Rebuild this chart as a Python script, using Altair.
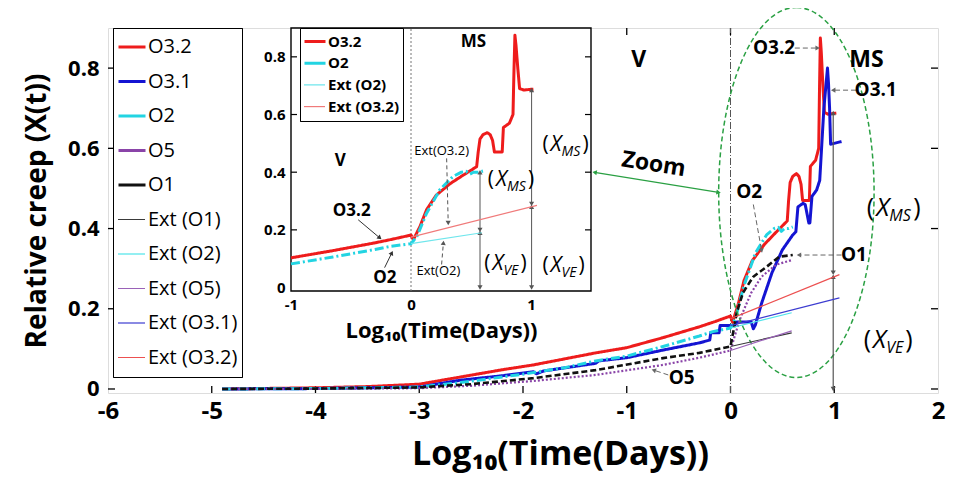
import math
import altair as alt
import pandas as pd

# ---------------- series (x = log10 days, y = relative creep) ----------------
SERIES = ["O3.2", "O3.1", "O2", "O5", "O1",
          "Ext (O1)", "Ext (O2)", "Ext (O5)", "Ext (O3.1)", "Ext (O3.2)"]
COLORS = ["#ee1c1c", "#1414d2", "#22d4e2", "#8a44a8", "#111111",
          "#3a3a3a", "#4ee4ea", "#9a62b8", "#3c3cd0", "#ec5050"]
DASHES = [[1, 0], [1, 0], [9, 3, 2, 3], [2, 2], [6, 3],
          [1, 0], [1, 0], [1, 0], [1, 0], [1, 0]]
LINE_W = {"O3.2": 3, "O3.1": 3, "O2": 3, "O5": 2.2, "O1": 2.6}
THICK, THIN = 3, 1.2

O32_X = [-4.9, -4.0, -3.5, -3.0, -2.6, -2.2, -1.9, -1.6, -1.3, -1.0, -0.65, -0.3, -0.15,
         0.0, 0.02, 0.075, 0.13, 0.21, 0.325, 0.436, 0.547, 0.56, 0.575, 0.6, 0.635, 0.66,
         0.68, 0.695, 0.76, 0.77, 0.82, 0.85, 0.858, 0.866, 0.875, 0.89, 0.905, 0.94, 1.02]
O32_Y = [0.0, 0.003, 0.006, 0.012, 0.03, 0.048, 0.06, 0.075, 0.09, 0.103, 0.128, 0.155, 0.168,
         0.182, 0.166, 0.212, 0.27, 0.32, 0.36, 0.39, 0.419, 0.47, 0.515, 0.53, 0.537, 0.53,
         0.51, 0.47, 0.47, 0.555, 0.57, 0.6, 0.75, 0.875, 0.84, 0.76, 0.69, 0.685, 0.688]

O31_X = [-4.9, -4.0, -3.0, -2.6, -2.2, -1.9, -1.87, -1.8, -1.3, -1.27, -1.0, -0.65, -0.3,
         -0.2, -0.19, -0.11, -0.1, 0.04, 0.06, 0.2, 0.22, 0.24, 0.3, 0.4, 0.5, 0.6, 0.63,
         0.65, 0.7, 0.72, 0.755, 0.765, 0.785, 0.83, 0.86, 0.9, 0.935, 0.945, 0.955, 0.965, 1.07]
O31_Y = [0.0, 0.001, 0.005, 0.022, 0.033, 0.043, 0.038, 0.045, 0.064, 0.07, 0.078, 0.097, 0.115,
         0.122, 0.14, 0.14, 0.158, 0.158, 0.167, 0.167, 0.15, 0.16, 0.214, 0.29, 0.347, 0.384, 0.392,
         0.454, 0.463, 0.46, 0.414, 0.414, 0.48, 0.496, 0.52, 0.70, 0.80, 0.76, 0.70, 0.61, 0.617]

O2_X = [-4.9, -4.0, -3.0, -2.6, -2.0, -1.6, -1.3, -1.0, -0.65, -0.3, -0.17, 0.0, 0.05, 0.13,
        0.24, 0.35, 0.42, 0.46, 0.49, 0.52, 0.56, 0.6]
O2_Y = [0.0, 0.001, 0.005, 0.016, 0.037, 0.053, 0.07, 0.082, 0.106, 0.132, 0.143, 0.152, 0.178,
        0.258, 0.339, 0.385, 0.40, 0.403, 0.393, 0.40, 0.40, 0.404]

O5_X = [-4.9, -4.0, -3.0, -2.5, -1.9, -1.3, -0.65, -0.3, 0.0, 0.05, 0.1, 0.2, 0.3, 0.44, 0.6]
O5_Y = [0.0, 0.0, 0.002, 0.008, 0.02, 0.035, 0.06, 0.078, 0.096, 0.14, 0.18, 0.24, 0.28, 0.31, 0.322]

O1_X = [-4.9, -4.0, -3.0, -2.5, -1.9, -1.3, -0.65, -0.3, 0.0, 0.03, 0.06, 0.12, 0.22, 0.35, 0.47, 0.6]
O1_Y = [0.0, 0.001, 0.004, 0.012, 0.027, 0.047, 0.077, 0.09, 0.106, 0.147, 0.19, 0.24, 0.28, 0.305, 0.33, 0.334]

EXT_O1_X, EXT_O1_Y = [0.0, 0.59], [0.106, 0.14]
EXT_O2_X, EXT_O2_Y = [0.0, 0.59], [0.152, 0.19]
EXT_O5_X, EXT_O5_Y = [0.0, 0.59], [0.096, 0.145]
EXT_O31_X, EXT_O31_Y = [0.0, 1.05], [0.158, 0.227]
EXT_O32_X, EXT_O32_Y = [0.0, 1.05], [0.175, 0.285]

SERIES_XY = {
    "O3.2": (O32_X, O32_Y), "O3.1": (O31_X, O31_Y), "O2": (O2_X, O2_Y),
    "O5": (O5_X, O5_Y), "O1": (O1_X, O1_Y),
    "Ext (O1)": (EXT_O1_X, EXT_O1_Y), "Ext (O2)": (EXT_O2_X, EXT_O2_Y),
    "Ext (O5)": (EXT_O5_X, EXT_O5_Y), "Ext (O3.1)": (EXT_O31_X, EXT_O31_Y),
    "Ext (O3.2)": (EXT_O32_X, EXT_O32_Y),
}
INSET_SERIES = ["O3.2", "O2", "Ext (O2)", "Ext (O3.2)"]
INSET_COLORS = ["#ee1c1c", "#22d4e2", "#6fe6ec", "#f07a7a"]
INSET_DASHES = [[1, 0], [9, 3, 2, 3], [1, 0], [1, 0]]

# ---------------- tick values ----------------
MAIN_XTICKS = [-6, -5, -4, -3, -2, -1, 0, 1, 2]
MAIN_YTICKS = [0, 0.2, 0.4, 0.6, 0.8]
INSET_XTICKS = [-1, 0, 1]
INSET_YTICKS = [0, 0.2, 0.4, 0.6, 0.8]

# ---------------- annotations (data coordinates) ----------------
MAIN_LABEL_TEXT = ["V", "MS", "O3.2", "O3.1", "O2", "O1", "O5"]
MAIN_LABEL_X = [-0.885, 1.31, 0.42, 1.40, 0.18, 1.19, -0.47]
MAIN_LABEL_Y = [0.82, 0.82, 0.85, 0.745, 0.49, 0.334, 0.027]
MAIN_LABEL_SIZE = [23, 23, 19, 19, 19, 19, 19]
ZOOM_TEXT, ZOOM_X, ZOOM_Y = ["Zoom"], [-0.74], [0.56]

MAIN_DASH_ARROWS = {
    "x1": [0.62, 1.21, 0.22, 1.07, -0.6],
    "y1": [0.85, 0.745, 0.46, 0.334, 0.035],
    "x2": [0.84, 0.99, 0.30, 0.66, -0.74],
    "y2": [0.85, 0.745, 0.345, 0.334, 0.047],
}
MAIN_GREEN_ARROW = {"x1": [-1.31], "y1": [0.54], "x2": [-0.115], "y2": [0.49]}
MAIN_GAP_ARROWS = {"x1": [0.99, 0.99], "y1": [0.0, 0.29], "x2": [0.99, 0.99], "y2": [0.28, 0.688]}
MAIN_XSUB = {"x": [1.53, 1.50], "y": [0.451, 0.122], "sub": ["MS", "VE"]}
ELLIPSE_X, ELLIPSE_Y = [0.635], [0.49]

INSET_LABEL_TEXT = ["V", "MS", "O3.2", "O2"]
INSET_LABEL_X = [-0.59, 0.52, -0.494, -0.217]
INSET_LABEL_Y = [0.44, 0.85, 0.264, 0.034]
INSET_SMALL_TEXT = ["Ext(O3.2)", "Ext(O2)"]
INSET_SMALL_X = [0.255, 0.228]
INSET_SMALL_Y = [0.473, 0.057]
INSET_SOLID_ARROWS = {"x1": [-0.44, -0.22], "y1": [0.235, 0.069], "x2": [-0.26, -0.16], "y2": [0.172, 0.12]}
INSET_DASH_ARROWS = {"x1": [0.297, 0.255], "y1": [0.448, 0.08], "x2": [0.31, 0.27], "y2": [0.224, 0.155]}
INSET_GAP_ARROWS = {"x1": [0.575, 0.575, 1.005, 1.005], "y1": [0.0, 0.2, 0.0, 0.29],
                    "x2": [0.575, 0.575, 1.005, 1.005], "y2": [0.19, 0.4, 0.28, 0.685]}
INSET_XSUB_MS = {"x": [0.80, 1.255], "y": [0.373, 0.494], "sub": ["MS", "MS"]}
INSET_XSUB_VE = {"x": [0.77, 1.255], "y": [0.08, 0.075], "sub": ["VE", "VE"]}

# ---------------- layout ----------------
W, H = 830, 365
XD, YD = [-6, 2], [-0.01, 0.9]
IXD, IYD = [-1, 1.5], [-0.012, 0.9]
IX_RANGE, IY_RANGE = [183, 483], [263, 0]
SX, SY = W / (XD[1] - XD[0]), H / (YD[1] - YD[0])
ISX = (IX_RANGE[1] - IX_RANGE[0]) / (IXD[1] - IXD[0])
ISY = (IY_RANGE[0] - IY_RANGE[1]) / (IYD[1] - IYD[0])
FONT = "Open Sans"
CLEAR = "rgba(0,0,0,0)"

XS = alt.Scale(domain=XD, nice=False, zero=False)
YS = alt.Scale(domain=YD, nice=False, zero=False)
IXS = alt.Scale(domain=IXD, range=IX_RANGE, nice=False, zero=False)
IYS = alt.Scale(domain=IYD, range=IY_RANGE, nice=False, zero=False)

AX_X = alt.Axis(orient="bottom", values=MAIN_XTICKS, labelExpr="'' + datum.value",
                labelFontSize=24, labelFontWeight="bold", labelColor="black", labelFlush=False,
                ticks=False, domain=False, grid=False, labelPadding=6,
                title="Log₁₀(Time(Days))", titleFontSize=34, titleFontWeight="bold",
                titleColor="black", titlePadding=14, titleX=452)
AX_Y = alt.Axis(orient="left", values=MAIN_YTICKS, format="~g", labelFontSize=22,
                labelFontWeight="bold", labelColor="black", ticks=False, domain=False,
                grid=False, labelPadding=9, title="Relative creep (X(t))", titleFontSize=28,
                titleFontWeight="bold", titleColor="black", titlePadding=16)
IAX_X = alt.Axis(orient="bottom", offset=-(H - IY_RANGE[0]), values=INSET_XTICKS,
                 labelExpr="'' + datum.value", labelFontSize=15, labelFontWeight="bold",
                 labelColor="black", labelFlush=False, ticks=False, domain=False, grid=False,
                 labelPadding=6, title="Log₁₀(Time(Days))", titleFontSize=22,
                 titleFontWeight="bold", titleColor="black", titlePadding=8)
IAX_Y = alt.Axis(orient="left", offset=-IX_RANGE[0], values=INSET_YTICKS, format="~g",
                 labelFontSize=15, labelFontWeight="bold", labelColor="black", ticks=False,
                 domain=False, grid=False, labelPadding=6, title=None)

MX = lambda f="x": alt.X(f"{f}:Q", scale=XS, axis=AX_X)
MY = lambda f="y": alt.Y(f"{f}:Q", scale=YS, axis=AX_Y)
IX = lambda f="x": alt.X(f"{f}:Q", scale=IXS, axis=IAX_X)
IY = lambda f="y": alt.Y(f"{f}:Q", scale=IYS, axis=IAX_Y)


def series_df(names, xmin=None):
    rows = []
    for s in names:
        xs, ys = SERIES_XY[s]
        for i, (x, y) in enumerate(zip(xs, ys)):
            if xmin is None or x >= xmin:
                rows.append({"series": s, "x": x, "y": y, "i": i, "w": LINE_W.get(s, THIN)})
    return pd.DataFrame(rows)


def arrows(spec, X, Y, sx, sy, color, dash=None, both=False, width=1.0):
    df = pd.DataFrame(spec)
    rule_kw = dict(color=color, strokeWidth=width)
    if dash:
        rule_kw["strokeDash"] = dash
    rule = alt.Chart(df).mark_rule(**rule_kw).encode(
        x=X("x1"), y=Y("y1"), x2=alt.X2("x2"), y2=alt.Y2("y2"))
    heads = []
    for x1, y1, x2, y2 in zip(spec["x1"], spec["y1"], spec["x2"], spec["y2"]):
        ang = math.degrees(math.atan2((x2 - x1) * sx, (y2 - y1) * sy)) % 360
        heads.append({"x": x2, "y": y2, "a": ang})
        if both:
            heads.append({"x": x1, "y": y1, "a": (ang + 180) % 360})
    head = alt.Chart(pd.DataFrame(heads)).mark_point(
        shape="triangle-up", filled=True, size=26, color=color, opacity=1).encode(
        x=X(), y=Y(), angle=alt.Angle("a:Q", scale=None))
    return [rule, head]


def xsub(spec, X, Y, size, subsize, paren_dx, xw):
    df = pd.DataFrame(spec)
    base = alt.Chart(df).encode(x=X(), y=Y())
    return [
        base.mark_text(text="(", align="right", baseline="middle", fontSize=size,
                       dx=-xw, color="black"),
        base.mark_text(text="X", align="right", baseline="middle", fontSize=size,
                       fontStyle="italic", color="black"),
        base.mark_text(align="left", baseline="middle", fontSize=subsize, fontStyle="italic",
                       dx=0, dy=size * 0.33, color="black").encode(text="sub:N"),
        base.mark_text(text=")", align="left", baseline="middle", fontSize=size,
                       dx=paren_dx, color="black"),
    ]


def ticks_df(xs_bottom, ys_left, xd, yd, lx, ly):
    rows = []
    for v in xs_bottom:
        rows.append({"x": v, "x2": v, "y": yd[0], "y2": yd[0] + ly})
        rows.append({"x": v, "x2": v, "y": yd[1], "y2": yd[1] - ly})
    for v in ys_left:
        rows.append({"x": xd[0], "x2": xd[0] + lx, "y": v, "y2": v})
        rows.append({"x": xd[1], "x2": xd[1] - lx, "y": v, "y2": v})
    return pd.DataFrame(rows)


def line_pair(names, colors, dashes, X, Y, lx, sym_len, entry_h, font_size, font_weight,
              row_pad, pad, xmin=None):
    """Thick measured curves and thin extrapolation lines. Both legends list every
    entry with the same fixed entry height, so the thin-symbol legend lies exactly
    on top of the boxed legend and gives the extrapolations thin symbols."""
    is_ext = [n.startswith("Ext") for n in names]
    thick = [n for n, e in zip(names, is_ext) if not e]
    thin = [n for n, e in zip(names, is_ext) if e]
    thick_colors = [CLEAR if e else c for c, e in zip(colors, is_ext)]
    thin_colors = [c if e else CLEAR for c, e in zip(colors, is_ext)]
    common = dict(title=None, orient="none", legendX=lx, legendY=0, symbolType="stroke",
                  symbolSize=sym_len ** 2, clipHeight=entry_h, labelFontSize=font_size,
                  labelFont=FONT, labelFontWeight=font_weight, padding=pad, labelOffset=1,
                  rowPadding=row_pad)
    leg_a = alt.Legend(symbolStrokeWidth=THICK, labelColor="black", strokeColor="black",
                       fillColor="white", **common)
    leg_b = alt.Legend(symbolStrokeWidth=THIN, labelExpr="''", **common)
    a = alt.Chart(series_df(thick, xmin)).mark_line(
        strokeCap="butt", strokeJoin="round").encode(
        x=X(), y=Y(),
        color=alt.Color("series:N", scale=alt.Scale(domain=names, range=thick_colors),
                        legend=leg_a),
        strokeDash=alt.StrokeDash("series:N", scale=alt.Scale(domain=names, range=dashes),
                                  legend=leg_a),
        strokeWidth=alt.StrokeWidth("w:Q", scale=None),
        order="i:Q")
    b = alt.Chart(series_df(thin, xmin)).mark_line(strokeWidth=THIN).encode(
        x=X(), y=Y(),
        color=alt.Color("series:N", scale=alt.Scale(domain=names, range=thin_colors),
                        legend=leg_b),
        order="i:Q")
    return a, b


# ---------------- main panel ----------------
main_thick, main_thin = line_pair(SERIES, COLORS, DASHES, MX, MY, 5, 27, 30, 20, "normal",
                                  4.5, 4)

main_ticks = alt.Chart(ticks_df(MAIN_XTICKS[1:-1], MAIN_YTICKS, XD, YD, 7 / SX, 7 / SY)).mark_rule(
    color="black", strokeWidth=1.3).encode(x=MX(), y=MY(), x2="x2:Q", y2="y2:Q")
main_vline = alt.Chart(pd.DataFrame({"x": [0], "y": [YD[0]], "y2": [YD[1]]})).mark_rule(
    color="#555555", strokeWidth=1, strokeDash=[7, 2, 1, 2]).encode(x=MX(), y=MY(), y2="y2:Q")

ELLIPSE_PATH = "M 0 -1 A 0.42 1 0 1 1 0 1 A 0.42 1 0 1 1 0 -1 Z"
ellipse = alt.Chart(pd.DataFrame({"x": ELLIPSE_X, "y": ELLIPSE_Y})).mark_point(
    shape=ELLIPSE_PATH, size=370 ** 2, filled=False, color="#2aa043", strokeWidth=1.5,
    strokeDash=[5, 3], opacity=1).encode(x=MX(), y=MY())

main_labels = alt.Chart(pd.DataFrame({"x": MAIN_LABEL_X, "y": MAIN_LABEL_Y, "t": MAIN_LABEL_TEXT,
                                      "s": MAIN_LABEL_SIZE})).mark_text(
    fontWeight="bold", color="black", baseline="middle").encode(
    x=MX(), y=MY(), text="t:N", size=alt.Size("s:Q", scale=None))
zoom_label = alt.Chart(pd.DataFrame({"x": ZOOM_X, "y": ZOOM_Y, "t": ZOOM_TEXT})).mark_text(
    fontWeight="bold", color="black", fontSize=23, angle=9, baseline="middle").encode(
    x=MX(), y=MY(), text="t:N")

main_layers = [main_ticks, main_vline, main_thick, ellipse]
main_layers += arrows(MAIN_DASH_ARROWS, MX, MY, SX, SY, "#666666", dash=[5, 3])
main_layers += arrows(MAIN_GREEN_ARROW, MX, MY, SX, SY, "#2aa043", both=True, width=1.2)
main_layers += arrows(MAIN_GAP_ARROWS, MX, MY, SX, SY, "#555555", both=True, width=1.2)
main_layers += [main_labels, zoom_label]
main_layers += xsub({k: [v[0]] for k, v in MAIN_XSUB.items()}, MX, MY, 25, 16, 24, 15)
main_layers += xsub({k: [v[1]] for k, v in MAIN_XSUB.items()}, MX, MY, 25, 16, 19, 15)
main = alt.layer(alt.layer(*main_layers), main_thin).resolve_scale(
    color="independent").resolve_legend(color="independent")

# ---------------- inset panel ----------------
inset_thick, inset_thin = line_pair(INSET_SERIES, INSET_COLORS, INSET_DASHES, IX, IY,
                                    192, 21, 21, 15, "bold", 0.7, 3, xmin=-1)
inset_frame = alt.Chart(pd.DataFrame({"x": [IXD[0]], "x2": [IXD[1]], "y": [IYD[0]],
                                      "y2": [IYD[1]]})).mark_rect(
    fill="white", stroke="black", strokeWidth=1.4).encode(x=IX(), y=IY(), x2="x2:Q", y2="y2:Q")
inset_ticks = alt.Chart(ticks_df([], INSET_YTICKS[1:], IXD, IYD, 6 / ISX, 6 / ISY)).mark_rule(
    color="black", strokeWidth=1.2).encode(x=IX(), y=IY(), x2="x2:Q", y2="y2:Q")
inset_vline = alt.Chart(pd.DataFrame({"x": [0], "y": [IYD[0]], "y2": [IYD[1]]})).mark_rule(
    color="#777777", strokeWidth=1, strokeDash=[2, 2]).encode(x=IX(), y=IY(), y2="y2:Q")
inset_labels = alt.Chart(pd.DataFrame({"x": INSET_LABEL_X, "y": INSET_LABEL_Y,
                                       "t": INSET_LABEL_TEXT})).mark_text(
    fontWeight="bold", color="black", fontSize=17, baseline="middle").encode(
    x=IX(), y=IY(), text="t:N")
inset_small = alt.Chart(pd.DataFrame({"x": INSET_SMALL_X, "y": INSET_SMALL_Y,
                                      "t": INSET_SMALL_TEXT})).mark_text(
    color="black", fontSize=13, baseline="middle").encode(x=IX(), y=IY(), text="t:N")

inset_layers = [inset_frame, inset_ticks, inset_vline, inset_thick]
inset_layers += arrows(INSET_SOLID_ARROWS, IX, IY, ISX, ISY, "#333333")
inset_layers += arrows(INSET_DASH_ARROWS, IX, IY, ISX, ISY, "#555555", dash=[4, 3])
inset_layers += arrows(INSET_GAP_ARROWS, IX, IY, ISX, ISY, "#555555", both=True)
inset_layers += [inset_labels, inset_small]
inset_layers += xsub(INSET_XSUB_MS, IX, IY, 21, 14, 21, 13)
inset_layers += xsub(INSET_XSUB_VE, IX, IY, 21, 14, 17, 13)
inset = alt.layer(alt.layer(*inset_layers), inset_thin).resolve_scale(
    color="independent").resolve_legend(color="independent")

chart = alt.layer(main, inset).resolve_scale(
    x="independent", y="independent", color="independent", strokeDash="independent"
).resolve_legend(color="independent", strokeDash="independent").properties(
    width=W, height=H, autosize="none",
    padding={"left": 100, "top": 20, "right": 8, "bottom": 83},
).configure_view(stroke="black", strokeWidth=1.6).configure(font=FONT)

chart.save("out.html", embed_options={"renderer": "svg", "actions": False})
